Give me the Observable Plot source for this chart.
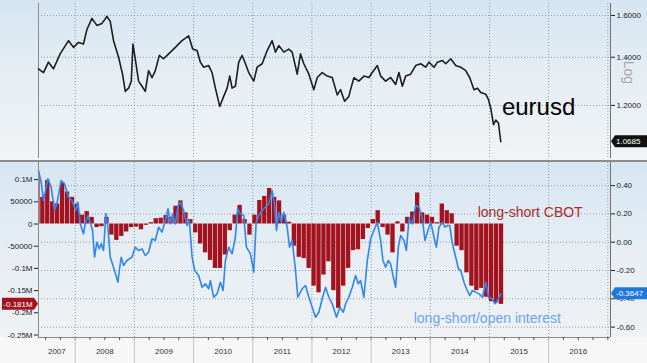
<!DOCTYPE html>
<html><head><meta charset="utf-8">
<script src="https://cdn.jsdelivr.net/npm/d3@7"></script>
<script src="https://cdn.jsdelivr.net/npm/@observablehq/plot@0.6"></script>
<style>
html,body{margin:0;padding:0;background:#fff;}
body{width:647px;height:363px;overflow:hidden;font-family:"Liberation Sans",Arial,sans-serif;}
#top{height:160px;background:linear-gradient(#d5e5f1 0px,#e6eef4 80px,#f1f3f4 160px);}
#bot{height:201px;border-top:2px solid #8c8c8c;background:linear-gradient(#d6e6f2 0px,#e7eef4 90px,#eff1f3 175px,#f7f7f7 175px,#f7f7f7 201px);}
svg{display:block;}
</style></head><body>
<div id="top"></div><div id="bot"></div>
<script>
// ---------- data ----------
const eurTimes = [
 2007.379,2007.464,2007.548,2007.633,2007.746,2007.887,2007.971,
 2008.056,2008.140,2008.198,2008.283,2008.367,2008.452,2008.536,2008.592,2008.648,2008.733,2008.800,2008.846,2008.902,2008.948,2008.976,
 2009.015,2009.071,2009.129,2009.184,2009.240,2009.298,2009.354,2009.421,2009.494,2009.579,2009.692,2009.805,2009.917,2009.985,
 2010.059,2010.115,2010.171,2010.255,2010.313,2010.369,2010.442,2010.509,2010.567,2010.611,2010.651,2010.707,2010.763,2010.821,2010.877,2010.932,
 2011.017,2011.074,2011.159,2011.244,2011.328,2011.384,2011.440,2011.525,2011.609,2011.667,2011.751,2011.807,2011.863,2011.948,
 2012.032,2012.090,2012.174,2012.259,2012.343,2012.428,2012.484,2012.552,2012.624,2012.653,2012.709,2012.794,2012.878,2012.963,
 2013.020,2013.105,2013.161,2013.245,2013.330,2013.415,2013.470,2013.528,2013.584,2013.668,2013.753,2013.838,2013.922,2013.978,
 2014.063,2014.120,2014.205,2014.261,2014.345,2014.430,2014.514,2014.599,2014.667,2014.739,2014.797,2014.853,2014.937,2014.983,
 2015.022,2015.068,2015.107,2015.152,2015.191];
const eurValues = [
 1.349,1.333,1.378,1.349,1.415,1.476,1.445,
 1.468,1.460,1.530,1.585,1.550,1.560,1.595,1.570,1.476,1.400,1.326,1.255,1.268,1.297,1.460,
 1.393,1.297,1.276,1.255,1.341,1.311,1.341,1.408,1.393,1.415,1.445,1.476,1.499,1.437,
 1.430,1.378,1.356,1.363,1.333,1.268,1.196,1.235,1.268,1.318,1.268,1.276,1.378,1.408,1.371,1.333,
 1.297,1.356,1.371,1.430,1.476,1.423,1.453,1.423,1.437,1.423,1.326,1.415,1.371,1.326,
 1.262,1.312,1.333,1.318,1.312,1.241,1.262,1.216,1.235,1.262,1.311,1.297,1.318,1.312,
 1.333,1.363,1.318,1.297,1.312,1.283,1.333,1.276,1.318,1.326,1.363,1.371,1.356,1.378,
 1.356,1.378,1.385,1.371,1.393,1.363,1.356,1.341,1.311,1.262,1.268,1.251,1.244,1.222,
 1.189,1.128,1.145,1.134,1.0685];

// long-short CBOT, monthly, thousands of contracts, starting May 2007
const cbotStart = [2007, 5];
const cbotValues = [
 115,60,98,50,45,92,72,60,
 45,20,28,15,-8,-6,15,-25,-37,-28,-18,-8,
 -7,-13,-3,3,12,13,19,15,40,52,25,10,
 -20,-45,-65,-82,-100,-100,-70,-15,20,42,10,-25,
 20,53,62,80,60,52,20,4,-50,-75,-78,-100,
 -140,-155,-115,-85,-150,-190,-140,-100,-60,-58,-35,-10,
 10,30,-8,-25,-65,5,-18,15,27,70,25,20,
 15,3,45,30,23,-50,-60,-110,-140,-150,-145,-165,
 -175,-178,-181];

// long-short / open interest
const ratioTimes = [
 2007.379,2007.425,2007.464,2007.538,2007.594,2007.650,2007.690,2007.763,2007.819,2007.887,2007.944,
 2008.012,2008.046,2008.085,2008.140,2008.169,2008.215,2008.254,2008.293,2008.327,2008.367,2008.406,2008.440,2008.479,2008.519,2008.553,2008.592,2008.648,2008.689,2008.722,2008.745,2008.778,2008.817,2008.875,2008.959,
 2009.015,2009.071,2009.129,2009.184,2009.240,2009.298,2009.354,2009.409,2009.467,2009.523,2009.569,2009.607,2009.646,2009.692,2009.738,2009.777,2009.832,2009.890,2009.929,2009.975,
 2010.019,2010.086,2010.144,2010.200,2010.255,2010.284,2010.340,2010.398,2010.453,2010.499,2010.538,2010.594,2010.651,2010.707,2010.746,2010.792,2010.848,2010.893,2010.961,
 2011.017,2011.058,2011.102,2011.159,2011.215,2011.271,2011.328,2011.367,2011.401,2011.440,2011.481,2011.525,2011.582,2011.621,2011.667,2011.723,2011.761,2011.836,2011.892,2011.948,
 2012.005,2012.061,2012.117,2012.174,2012.230,2012.286,2012.343,2012.416,2012.472,2012.530,2012.569,2012.624,2012.682,2012.738,2012.783,2012.822,2012.878,2012.936,2012.992,
 2013.047,2013.105,2013.161,2013.200,2013.245,2013.291,2013.330,2013.369,2013.415,2013.460,2013.499,2013.555,2013.596,2013.640,2013.697,2013.753,2013.809,2013.866,2013.910,2013.951,
 2014.007,2014.063,2014.103,2014.147,2014.205,2014.249,2014.289,2014.328,2014.374,2014.430,2014.475,2014.514,2014.570,2014.611,2014.667,2014.712,2014.768,2014.824,2014.882,2014.937,2014.983,
 2015.039,2015.095,2015.135,2015.191];
const ratioValues = [
 0.507,0.424,0.295,0.448,0.389,0.224,0.271,0.436,0.413,0.318,0.295,
 0.224,0.283,0.130,0.059,0.130,0.189,0.141,0.083,-0.106,0.000,-0.047,-0.011,-0.059,0.200,0.106,-0.106,-0.177,-0.235,-0.283,-0.200,-0.106,-0.165,-0.129,-0.106,
 -0.035,-0.059,-0.047,-0.094,-0.071,0.024,0.012,0.106,0.071,0.153,0.236,0.130,0.200,0.130,0.259,0.283,0.224,0.118,0.153,-0.106,
 -0.200,-0.235,-0.318,-0.294,-0.329,-0.271,-0.389,-0.365,-0.283,-0.341,-0.129,-0.035,-0.082,0.035,0.236,0.200,0.189,-0.035,-0.082,
 -0.212,0.141,0.189,0.224,0.247,0.271,0.365,0.271,0.083,0.212,0.141,0.212,0.106,-0.035,0.012,-0.200,-0.389,-0.329,-0.306,-0.389,
 -0.459,-0.530,-0.495,-0.400,-0.318,-0.389,-0.435,-0.530,-0.459,-0.495,-0.435,-0.389,-0.318,-0.235,-0.294,-0.271,-0.389,-0.129,0.024,
 0.083,0.141,0.012,-0.129,-0.177,-0.129,-0.153,-0.235,-0.318,-0.035,0.047,0.012,-0.059,0.165,0.130,0.259,0.247,0.165,0.012,0.071,
 0.141,0.035,-0.035,0.106,0.141,0.106,0.118,0.118,-0.011,-0.106,-0.188,-0.200,-0.283,-0.329,-0.377,-0.341,-0.353,-0.365,-0.389,-0.283,-0.389,
 -0.400,-0.435,-0.412,-0.3647];

const yearLabels = [2007,2008,2009,2010,2011,2012,2013,2014,2015,2016];
const eurTicks = [1.2, 1.4, 1.6];
const leftTicks = [100000, 50000, 0, -50000, -100000, -150000, -200000, -250000];
const leftTickLabels = ["0.1M","50000","0","-50000","-0.1M","-0.15M","-0.2M","-0.25M"];
const rightTicks = [0.4, 0.2, 0, -0.2, -0.4, -0.6];
const rightTickLabels = ["0.40","0.20","0.00","-0.20","-0.40","-0.60"];

// ---------- layout / style ----------
const W = 647, ML = 38, MR = 37;
const FONT = "'Liberation Sans', Arial, sans-serif";
const xDomain = [2007.38, 2017.045];
const eurDomain = [1.0125, 1.6625];
const cbotDomain = [-255600, 138500];
const RED = "#a3131f", BLUE = "#2f86ee", GRID = "#8f9aa3";
const toLeft = r => -40990 + 318700 * r;   // right-axis ratio -> left-axis contracts

const eur = eurTimes.map((t, i) => ({t, v: eurValues[i]}));
const cbot = cbotValues.map((v, i) => {
  const t = cbotStart[0] + (cbotStart[1] - 1 + i) / 12;
  return {t, t2: t + 1 / 12, v: v * 1000};
});
const ratio = ratioTimes.map((t, i) => ({t, r: ratioValues[i]}));
const gridYears = d3.range(2008, 2018);
const rightPos = rightTicks.map(toLeft);
const quarterTicks = d3.range(2007.5, 2017.01, 0.25);
const labelPos = yearLabels.map(y => (Math.max(y, xDomain[0]) + y + 1) / 2);

const style = {background: "transparent", color: "#222", fontSize: "8px", fontFamily: FONT, overflow: "visible"};

const topPlot = Plot.plot({
  width: W, height: 160, marginLeft: ML, marginRight: MR, marginTop: 3, marginBottom: 2,
  x: {domain: xDomain, axis: null},
  y: {type: "log", domain: eurDomain, axis: null},
  style,
  marks: [
    Plot.ruleX(gridYears, {stroke: GRID, strokeDasharray: "1,2"}),
    Plot.ruleY(eurTicks, {stroke: GRID, strokeDasharray: "1,2"}),
    Plot.ruleX([xDomain[0]], {stroke: "#8a8a8a"}),
    Plot.ruleX([xDomain[1]], {stroke: "#707070"}),
    Plot.line(eur, {x: "t", y: "v", stroke: "#1e1e1e", strokeWidth: 1.6}),
    Plot.axisY(eurTicks, {anchor: "right", label: null, tickSize: 4, tickPadding: 2, tickFormat: d => d.toFixed(4)}),
    Plot.text(["Log"], {frameAnchor: "right", dx: 18, dy: 3, rotate: 90, fill: "#a8a8a8", fontSize: 14}),
    Plot.text(["eurusd"], {x: 2015.21, y: 1.163, textAnchor: "start", lineAnchor: "bottom", fontSize: 24, fill: "#000"})
  ]
});

const botPlot = Plot.plot({
  width: W, height: 201, marginLeft: ML, marginRight: MR, marginTop: 0, marginBottom: 26,
  x: {domain: xDomain, axis: null},
  y: {domain: cbotDomain, axis: null},
  style,
  marks: [
    Plot.ruleY(rightPos, {stroke: GRID, strokeDasharray: "1,2"}),
    Plot.ruleX(gridYears, {stroke: GRID, strokeDasharray: "1,2"}),
    Plot.rectY(cbot, {x1: "t", x2: "t2", y: "v", fill: RED, insetRight: 0.6, clip: true}),
    Plot.line(ratio, {x: "t", y: d => toLeft(d.r), stroke: BLUE, strokeWidth: 1.6}),
    Plot.ruleX([xDomain[0]], {stroke: "#8a8a8a"}),
    Plot.ruleX([xDomain[1]], {stroke: "#707070"}),
    Plot.ruleY([cbotDomain[0]], {stroke: "#8a8a8a"}),
    Plot.axisY(leftTicks, {anchor: "left", label: null, tickSize: 4, tickPadding: 2, tickFormat: d => leftTickLabels[leftTicks.indexOf(d)]}),
    Plot.axisY(rightPos, {anchor: "right", label: null, tickSize: 4, tickPadding: 2, tickFormat: d => rightTickLabels[rightPos.indexOf(d)]}),
    Plot.axisX(quarterTicks, {anchor: "bottom", label: null, tickSize: 3, tickFormat: () => "", stroke: "#555"}),
    Plot.axisX(d3.range(2008, 2017), {anchor: "bottom", label: null, tickSize: 26, tickFormat: () => "", stroke: "#c4c4c4"}),
    Plot.axisX(labelPos, {anchor: "bottom", label: null, tickSize: 0, tickPadding: 11, tickFormat: d => String(Math.floor(d)), fill: "#333"}),
    Plot.text(["long-short CBOT"], {x: 2014.80, y: 15000, textAnchor: "start", lineAnchor: "bottom", fontSize: 14, fill: "#ab2a2c"}),
    Plot.text(["long-short/open interest"], {x: 2013.72, y: -223000, textAnchor: "start", lineAnchor: "bottom", fontSize: 14, fill: "#6aa4ef"})
  ]
});

document.getElementById("top").appendChild(topPlot);
document.getElementById("bot").appendChild(botPlot);

// value tags placed through the plots' own scales
function addTag(svg, x0, x1, cy, fill, label, pointerSide) {
  const h = 12, p = 4;
  const g = d3.select(svg).append("g");
  const pts = pointerSide === "left"
    ? [[x0, cy], [x0 + p, cy - h / 2], [x1, cy - h / 2], [x1, cy + h / 2], [x0 + p, cy + h / 2]]
    : [[x0, cy - h / 2], [x1 - p, cy - h / 2], [x1, cy], [x1 - p, cy + h / 2], [x0, cy + h / 2]];
  g.append("polygon").attr("points", pts.map(q => q.join(",")).join(" ")).attr("fill", fill);
  g.append("text").attr("x", pointerSide === "left" ? x0 + p + 1 : (x0 + x1 - p) / 2)
    .attr("y", cy).attr("dy", "0.35em").attr("fill", "#fff").attr("font-size", 8)
    .attr("font-family", FONT)
    .attr("text-anchor", pointerSide === "left" ? "start" : "middle").text(label);
}
const eurLast = eurValues[eurValues.length - 1];
const ratioLast = ratioValues[ratioValues.length - 1];
const cbotLast = cbotValues[cbotValues.length - 1] * 1000;
addTag(topPlot, W - MR + 1, W, topPlot.scale("y").apply(eurLast), "#111", eurLast.toFixed(4), "left");
addTag(botPlot, W - MR + 1, W, botPlot.scale("y").apply(toLeft(ratioLast)), "#1f78e0", ratioLast.toFixed(4), "left");
addTag(botPlot, 2, ML, botPlot.scale("y").apply(cbotLast), "#a3131f", (cbotLast / 1e6).toFixed(3) + "M", "right");
</script>
</body></html>
